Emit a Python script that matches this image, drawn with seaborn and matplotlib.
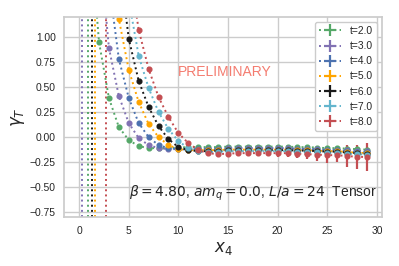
import numpy as np
import matplotlib
matplotlib.use("Agg")
import matplotlib.pyplot as plt
import seaborn as sns
from matplotlib.lines import Line2D

sns.set_theme(style="whitegrid", color_codes=True)
plt.rcParams['font.family'] = ['Liberation Sans', 'DejaVu Sans']
plt.rcParams['mathtext.fontset'] = 'dejavusans'

labels = ['t=2.0', 't=3.0', 't=4.0', 't=5.0', 't=6.0', 't=7.0', 't=8.0']
colors = ['g', 'm', 'b', 'orange', 'k', 'c', 'r']
x_start = [2, 3, 4, 4, 5, 6, 6]

# data points (x4 = x_start ... 29)
y_t2 = [0.95, 0.39, 0.10, -0.03, -0.09, -0.11, -0.11, -0.11, -0.105, -0.10,
        -0.10, -0.10, -0.10, -0.095, -0.095, -0.095, -0.095, -0.095, -0.095,
        -0.095, -0.10, -0.10, -0.105, -0.11, -0.11, -0.115, -0.12, -0.125]
y_t3 = [0.89, 0.41, 0.14, -0.01, -0.08, -0.11, -0.12, -0.12, -0.115, -0.115,
        -0.115, -0.115, -0.11, -0.11, -0.11, -0.11, -0.11, -0.11, -0.11,
        -0.115, -0.115, -0.12, -0.125, -0.125, -0.13, -0.135, -0.14]
y_t4 = [0.78, 0.39, 0.14, 0.0, -0.08, -0.11, -0.12, -0.125, -0.12, -0.12,
        -0.12, -0.115, -0.115, -0.115, -0.115, -0.115, -0.115, -0.115, -0.12,
        -0.12, -0.125, -0.13, -0.13, -0.14, -0.145, -0.15]
y_t5 = [1.18, 0.67, 0.35, 0.13, 0.0, -0.08, -0.12, -0.13, -0.13, -0.13,
        -0.13, -0.125, -0.125, -0.125, -0.125, -0.125, -0.125, -0.125, -0.13,
        -0.13, -0.135, -0.14, -0.14, -0.15, -0.155, -0.16]
y_t6 = [0.98, 0.56, 0.30, 0.11, -0.02, -0.10, -0.13, -0.14, -0.14, -0.135,
        -0.13, -0.13, -0.13, -0.13, -0.13, -0.13, -0.13, -0.135, -0.135,
        -0.14, -0.145, -0.145, -0.155, -0.16, -0.165]
y_t7 = [0.81, 0.49, 0.25, 0.08, -0.04, -0.11, -0.14, -0.15, -0.145, -0.14,
        -0.14, -0.14, -0.14, -0.14, -0.14, -0.14, -0.145, -0.145, -0.15,
        -0.155, -0.155, -0.165, -0.17, -0.175]
y_t8 = [1.07, 0.68, 0.40, 0.20, 0.04, -0.06, -0.13, -0.16, -0.17, -0.165,
        -0.16, -0.16, -0.16, -0.16, -0.16, -0.16, -0.165, -0.17, -0.175,
        -0.18, -0.18, -0.19, -0.195, -0.20]

e_t2 = [0.01, 0.01, 0.01, 0.01, 0.01, 0.01, 0.01, 0.01, 0.012, 0.012, 0.012,
        0.012, 0.013, 0.013, 0.013, 0.014, 0.014, 0.015, 0.015, 0.016, 0.016,
        0.017, 0.018, 0.019, 0.02, 0.022, 0.024, 0.026]
e_t3 = [0.01, 0.01, 0.01, 0.01, 0.01, 0.01, 0.01, 0.012, 0.012, 0.012,
        0.012, 0.013, 0.013, 0.013, 0.014, 0.014, 0.015, 0.015, 0.016, 0.016,
        0.017, 0.018, 0.019, 0.02, 0.022, 0.024, 0.026]
e_t4 = [0.01, 0.01, 0.01, 0.01, 0.01, 0.01, 0.012, 0.012, 0.012, 0.012,
        0.013, 0.013, 0.013, 0.014, 0.014, 0.015, 0.015, 0.016, 0.016, 0.017,
        0.018, 0.019, 0.02, 0.022, 0.024, 0.026]
e_t5 = [0.01, 0.01, 0.01, 0.01, 0.01, 0.01, 0.012, 0.012, 0.012, 0.012,
        0.013, 0.013, 0.013, 0.014, 0.014, 0.015, 0.015, 0.016, 0.016, 0.017,
        0.018, 0.019, 0.02, 0.022, 0.024, 0.026]
e_t6 = [0.01, 0.01, 0.01, 0.01, 0.01, 0.012, 0.012, 0.012, 0.013, 0.013,
        0.014, 0.014, 0.015, 0.015, 0.016, 0.017, 0.018, 0.019, 0.02, 0.022,
        0.024, 0.026, 0.028, 0.03, 0.032]
e_t7 = [0.01, 0.01, 0.01, 0.01, 0.012, 0.012, 0.013, 0.013, 0.014, 0.014,
        0.015, 0.016, 0.017, 0.018, 0.019, 0.02, 0.022, 0.024, 0.026, 0.028,
        0.03, 0.032, 0.035, 0.04]
e_t8 = [0.01, 0.01, 0.01, 0.01, 0.012, 0.014, 0.016, 0.018, 0.02, 0.022,
        0.024, 0.026, 0.028, 0.03, 0.035, 0.04, 0.045, 0.05, 0.06, 0.08,
        0.07, 0.11, 0.12, 0.14]

y_all = [y_t2, y_t3, y_t4, y_t5, y_t6, y_t7, y_t8]
e_all = [e_t2, e_t3, e_t4, e_t5, e_t6, e_t7, e_t8]

# fit curves: pole position and where the right branch enters the top
pole_x = [0.88, 0.33, None, 1.58, 1.28, None, 2.69]
top_x = [1.80, 2.72, 3.45, 3.97, 4.73, 5.30, 5.80]

ylo, yhi = -0.8, 1.2

fig, ax = plt.subplots(figsize=(3.99, 2.66), dpi=100)
fig.subplots_adjust(left=0.161, right=0.957, top=0.937, bottom=0.183)

handles = []
for lab, c, xs0, ys, es, p, xt in zip(labels, colors, x_start, y_all, e_all,
                                      pole_x, top_x):
    xs = np.arange(xs0, xs0 + len(ys))
    if p is not None:
        ax.axvline(p, color=c, ls=':', lw=1.4)
    sns.lineplot(x=np.r_[xt, xs], y=np.r_[yhi, ys], ax=ax, color=c,
                 linestyle=':', lw=1.4, sort=False)
    ax.errorbar(xs, ys, yerr=es, fmt='o', color=c, ms=3.4, elinewidth=1.6,
                capsize=0)
    handles.append(Line2D([], [], color=c, ls=':', lw=1.4, marker='+',
                          ms=9, mew=1.6))

ax.set_xlim(-1.5, 30.5)
ax.set_ylim(ylo, yhi)
ax.set_xticks([0, 5, 10, 15, 20, 25, 30])
ax.set_yticks([-0.75, -0.5, -0.25, 0.0, 0.25, 0.5, 0.75, 1.0])
ax.tick_params(labelsize=7.4, length=0, pad=6)
ax.set_xlabel('$x_4$', fontsize=12, labelpad=3)
ax.set_ylabel('$\\gamma_T$', fontsize=12, labelpad=2)

ax.text(14.7, 0.65, 'PRELIMINARY', color='#f47c70', fontsize=10,
        ha='center', va='center')
ax.text(5.0, -0.56, '$\\beta = 4.80$, $am_q = 0.0$, $L/a = 24$  Tensor',
        fontsize=10, ha='left', va='center')

ax.legend(handles, labels, loc='upper right', fontsize=7.4, handlelength=2.2,
          borderaxespad=0.5, framealpha=1)

fig.savefig('out.png', dpi=100)
